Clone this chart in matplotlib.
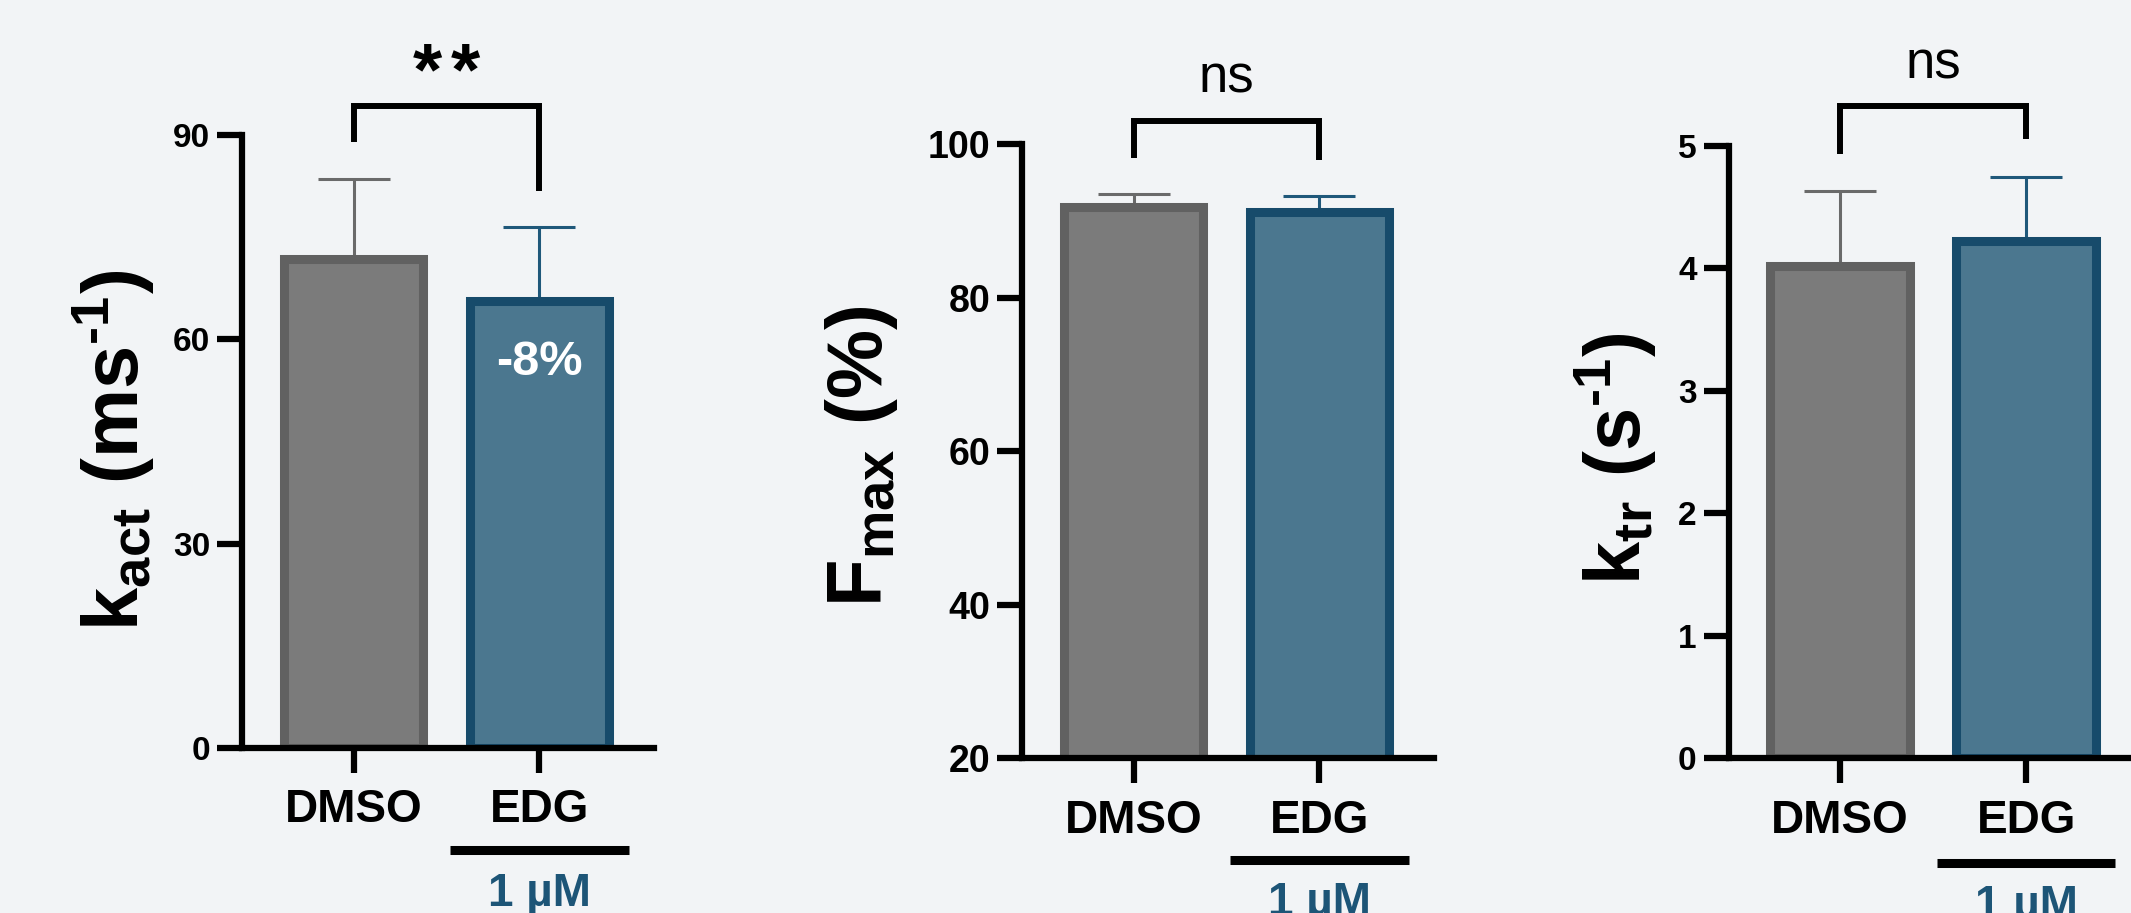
import matplotlib
matplotlib.use('Agg')
from matplotlib import pyplot as plt

# Data (mean + SD, upper error bar only)
groups = ['DMSO', 'EDG']
kact_mean = [71.8, 65.6]
kact_sd = [11.8, 10.9]
fmax_mean = [91.9, 91.2]
fmax_sd = [1.6, 2.1]
ktr_mean = [4.02, 4.22]
ktr_sd = [0.61, 0.52]

kact_ticks = [0, 30, 60, 90]
fmax_ticks = [20, 40, 60, 80, 100]
ktr_ticks = [0, 1, 2, 3, 4, 5]

significance = ['**', 'ns', 'ns']
edg_change = '-8%'
dose_label = '1 µM'

# Colours
bg = '#f2f4f6'
fills = ['#7b7b7b', '#4b778f']
edges = ['#616161', '#174b6b']
err_colors = ['#6a6a6a', '#1f587a']
dose_color = '#1d5577'

plt.rcParams['font.family'] = ['Liberation Sans', 'DejaVu Sans']
plt.rcParams['font.weight'] = 'bold'
plt.rcParams['mathtext.fontset'] = 'custom'
plt.rcParams['mathtext.bf'] = 'Liberation Sans:bold'
plt.rcParams['mathtext.rm'] = 'Liberation Sans:bold'
plt.rcParams['mathtext.it'] = 'Liberation Sans:bold'

W, H = 2131, 913
fig = plt.figure(figsize=(W / 100, H / 100), dpi=100, facecolor=bg)


def px_rect(left, top, width, bottom):
    return [left / W, (H - bottom) / H, width / W, (bottom - top) / H]


def draw_panel(rect, means, sds, ylim, yticks, ytick_size, ylabel, label_px,
               sig, bracket, sig_y, sig_kw, line_y, text_y):
    ax = fig.add_axes(rect)
    ax.set_facecolor(bg)
    x = [0, 1]
    for i in range(2):
        ax.errorbar(x[i], means[i], yerr=[[0], [sds[i]]], fmt='none',
                    ecolor=err_colors[i], elinewidth=2.2, capsize=26,
                    capthick=2.2, zorder=1)
        ax.bar(x[i], means[i], width=0.75, color=fills[i],
               edgecolor=edges[i], linewidth=6.5, zorder=2)
    ax.set_xlim(-0.6, 1.616)
    ax.set_ylim(*ylim)
    ax.set_yticks(yticks)
    ax.set_xticks(x)
    ax.set_xticklabels(groups)
    for s in ['top', 'right']:
        ax.spines[s].set_visible(False)
    for s in ['left', 'bottom']:
        ax.spines[s].set_linewidth(4.5)
    ax.tick_params(width=4.5, length=18, direction='out')
    ax.tick_params(axis='y', pad=5, labelsize=ytick_size)
    ax.tick_params(axis='x', pad=11, labelsize=33)

    # significance bracket
    lb, top, rb = bracket
    ax.plot([0, 0, 1, 1], [lb, top, top, rb], color='black', lw=4.3,
            clip_on=False, solid_joinstyle='miter', solid_capstyle='butt')
    if set(sig) == {'*'}:
        # asterisks are spaced apart a little in the original
        n = len(sig)
        for k in range(n):
            ax.text(0.5 + (k - (n - 1) / 2) * 0.205, sig_y, '*',
                    ha='center', va='baseline', **sig_kw)
    else:
        ax.text(0.5, sig_y, sig, ha='center', va='baseline', **sig_kw)

    # dose bar under EDG
    trans = ax.get_xaxis_transform()
    ax.plot([0.52, 1.48], [line_y, line_y], transform=trans, color='black',
            lw=6.5, clip_on=False, solid_capstyle='butt')
    ax.text(1, text_y, dose_label, transform=trans, ha='center', va='top',
            fontsize=33, fontweight='bold', color=dose_color)

    fig.text(label_px[0] / W, (H - label_px[1]) / H, ylabel, rotation=90,
             ha='center', va='center', fontsize=56)
    return ax


star_kw = dict(fontsize=54, fontweight='bold')
ns_kw = dict(fontsize=38, fontweight='normal')

ax1 = draw_panel(px_rect(242, 135, 412, 748), kact_mean, kact_sd, (0, 90),
                 kact_ticks, 24, r'$\mathbf{k_{act}\ (ms^{‐1})}$', (114, 450),
                 significance[0], (89.0, 94.3, 81.8), 96.0, star_kw,
                 -0.1664, -0.2023)
ax1.text(1, 54.8, edg_change, color='white', ha='center', va='baseline',
         fontsize=35, fontweight='bold', zorder=3)

draw_panel(px_rect(1022, 144.4, 412, 758.3), fmax_mean, fmax_sd, (20, 100),
           fmax_ticks, 27, r'$\mathbf{F_{max}\ (\%)}$', (862, 456),
           significance[1], (98.2, 103.05, 97.95), 106.7, ns_kw,
           -0.1657, -0.2)

draw_panel(px_rect(1728.6, 145.6, 412, 758.3), ktr_mean, ktr_sd, (0, 5),
           ktr_ticks, 24, r'$\mathbf{k_{tr}\ (s^{‐1})}$', (1616, 459),
           significance[2], (4.93, 5.32, 5.05), 5.55, ns_kw,
           -0.1709, -0.205)

fig.savefig('out.png', dpi=100, facecolor=bg)
